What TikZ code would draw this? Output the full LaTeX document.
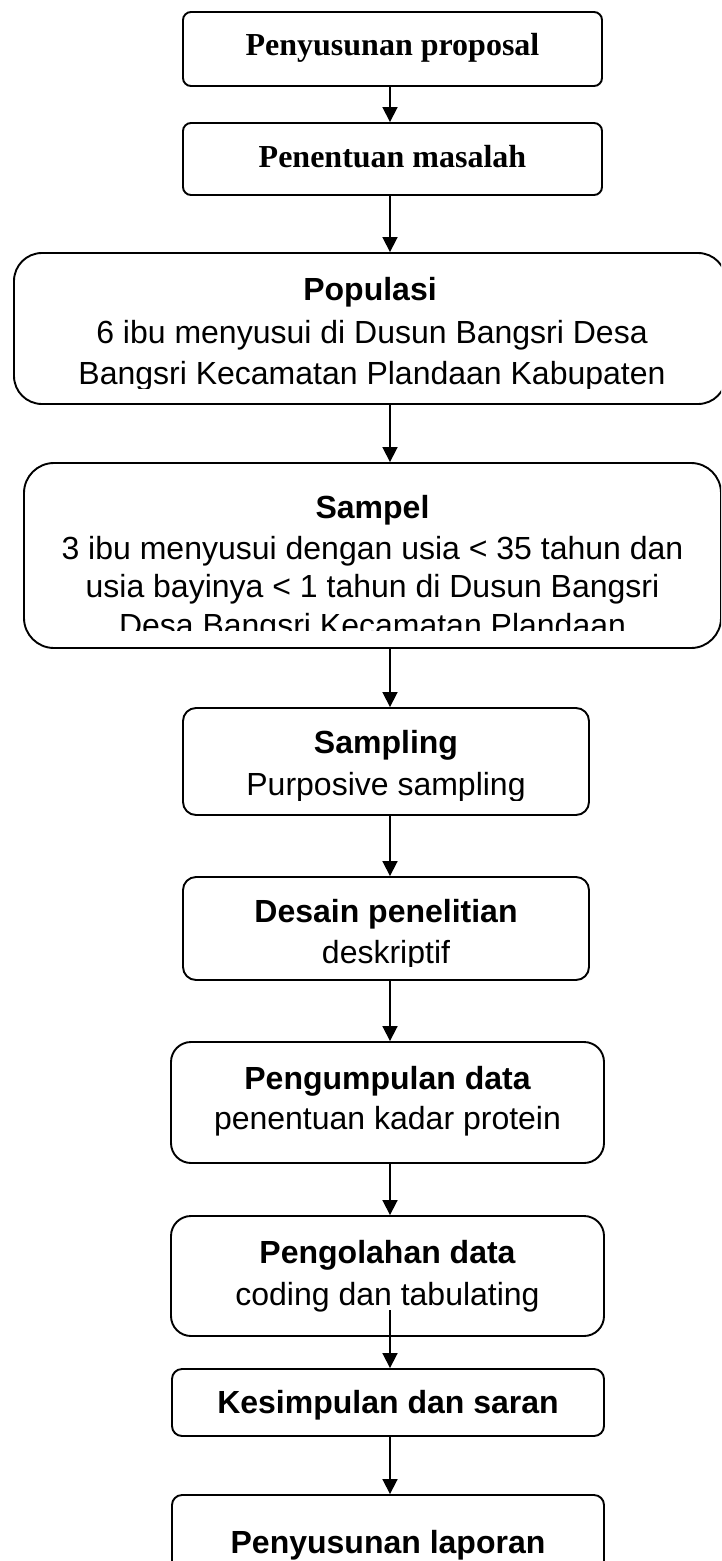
\documentclass[tikz,border=0pt]{standalone}
\usepackage{fontspec}
\setmainfont{Liberation Serif}
\setsansfont{Liberation Sans}
\usetikzlibrary{arrows.meta}
\begin{document}
\begin{tikzpicture}[x=1pt,y=-1pt,
  box/.style={draw, line width=1.9pt, rounded corners=#1, inner sep=0pt},
  box/.default=10pt,
  lbl/.style={anchor=base, inner sep=0pt, font=\sffamily\fontsize{32}{38}\selectfont},
  ttl/.style={anchor=base, inner sep=0pt, font=\sffamily\bfseries\fontsize{32}{38}\selectfont},
  sttl/.style={anchor=base, inner sep=0pt, font=\rmfamily\bfseries\fontsize{32}{38}\selectfont},
  arr/.style={line width=1.8pt, -{Triangle[length=15pt,width=15pt]}}
]
\useasboundingbox (0,0) rectangle (721,1561);
\clip (0,0) rectangle (721,1561);
\fill[white] (0,0) rectangle (721,1561);
\coordinate (ax) at (390,0);

% boxes
\node[box=8pt, minimum width=419pt, minimum height=74pt] (b1) at (392.5,49) {};
\node[box=8pt, minimum width=419pt, minimum height=72pt] (b2) at (392.5,159) {};
\node[box=28pt, minimum width=712pt, minimum height=151pt] (b3) at (370,328.5) {};
\node[box=30pt, minimum width=697pt, minimum height=185pt] (b4) at (372.5,555.5) {};
\node[box=13pt, minimum width=406pt, minimum height=107pt] (b5) at (386,761.5) {};
\node[box=13pt, minimum width=406pt, minimum height=103pt] (b6) at (386,928.5) {};
\node[box=20pt, minimum width=433pt, minimum height=121pt] (b7) at (387.5,1102.5) {};
\node[box=20pt, minimum width=433pt, minimum height=120pt] (b8) at (387.5,1276) {};
\node[box=10pt, minimum width=432pt, minimum height=67pt] (b9) at (388,1402.5) {};
\node[box=10pt, minimum width=432pt, minimum height=90pt] (b10) at (388,1540) {};

% texts
\node[sttl] (t1) at (392.5,55) {Penyusunan proposal};
\node[sttl] (t2) at (392.5,167) {Penentuan masalah};

\begin{scope}
\clip (14,253) rectangle (726,388);
\node[ttl] (t3a) at (370,300) {Populasi};
\node[lbl] (t3b) at (372,343) {6 ibu menyusui di Dusun Bangsri Desa};
\node[lbl] (t3c) at (372,384) {Bangsri Kecamatan Plandaan Kabupaten};
\end{scope}

\begin{scope}
\clip (24,463) rectangle (721,630);
\node[ttl] (t4a) at (372.5,518) {Sampel};
\node[lbl] (t4b) at (372.5,559) {3 ibu menyusui dengan usia < 35 tahun dan};
\node[lbl] (t4c) at (372.5,597) {usia bayinya < 1 tahun di Dusun Bangsri};
\node[lbl] (t4d) at (372.5,636) {Desa Bangsri Kecamatan Plandaan};
\end{scope}

\begin{scope}
\clip (183,708) rectangle (589,800);
\node[ttl] (t5a) at (386,753) {Sampling};
\node[lbl] (t5b) at (386,795) {Purposive sampling};
\end{scope}

\begin{scope}
\clip (183,877) rectangle (589,966);
\node[ttl] (t6a) at (386,922) {Desain penelitian};
\node[lbl] (t6b) at (386,963) {deskriptif};
\end{scope}

\node[ttl] (t7a) at (387.5,1089) {Pengumpulan data};
\node[lbl] (t7b) at (387.5,1129) {penentuan kadar protein};

\node[ttl] (t8a) at (387.5,1263) {Pengolahan data};
\node[lbl] (t8b) at (387.5,1305) {coding dan tabulating};

\node[ttl] (t9) at (388,1413) {Kesimpulan dan saran};
\node[ttl] (t10) at (388,1553) {Penyusunan laporan};

% connectors
\coordinate (p8) at (390,1310);
\draw[arr] (b1.south -| ax) -- (b2.north -| ax);
\draw[arr] (b2.south -| ax) -- (b3.north -| ax);
\draw[arr] (b3.south -| ax) -- (b4.north -| ax);
\draw[arr] (b4.south -| ax) -- (b5.north -| ax);
\draw[arr] (b5.south -| ax) -- (b6.north -| ax);
\draw[arr] (b6.south -| ax) -- (b7.north -| ax);
\draw[arr] (b7.south -| ax) -- (b8.north -| ax);
\draw[arr] (p8) -- (b9.north -| ax);
\draw[arr] (b9.south -| ax) -- (b10.north -| ax);
\end{tikzpicture}
\end{document}
